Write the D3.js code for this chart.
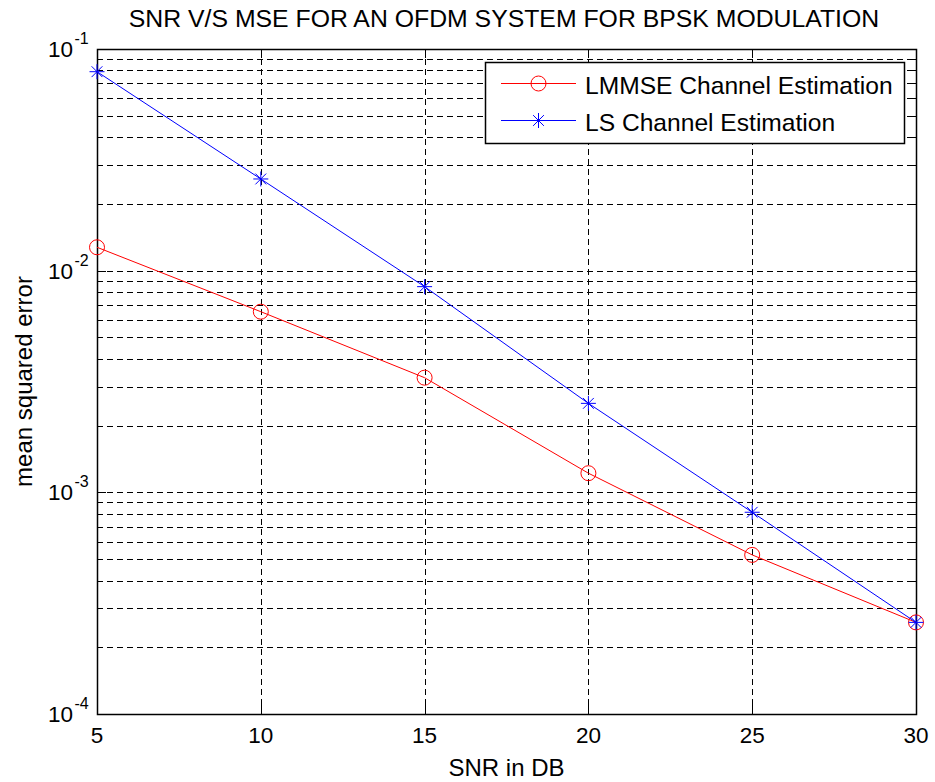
<!DOCTYPE html>
<html>
<head>
<meta charset="utf-8">
<script src="https://cdn.jsdelivr.net/npm/d3@7"></script>
<style>
  body { margin: 0; background: #fff; }
  svg { display: block; font-family: "Liberation Sans", Arial, sans-serif; }
</style>
</head>
<body>
<svg id="chart" width="935" height="782"></svg>
<script>
// data
const snr = [5, 10, 15, 20, 25, 30];
const lmmse = [0.01275, 0.00653, 0.00329, 0.00122, 0.000522, 0.000259];
const ls = [0.0790, 0.02592, 0.00847, 0.00252, 0.000813, 0.000259];
const xTicks = [5, 10, 15, 20, 25, 30];
const yTickExps = [-1, -2, -3, -4];
const seriesNames = ["LMMSE Channel Estimation", "LS Channel Estimation"];

const svg = d3.select("#chart");
const plotL = 97, plotR = 916, plotT = 49, plotB = 714;

const x = d3.scaleLinear().domain([5, 30]).range([plotL, plotR]);
const y = d3.scaleLog().domain([1e-4, 1e-1]).range([plotB, plotT]);

// grid
const grid = svg.append("g").attr("stroke", "#000").attr("stroke-width", 1)
  .attr("stroke-dasharray", "6,4").attr("fill", "none");
grid.selectAll("line.v")
  .data(xTicks.filter(d => d !== 5 && d !== 30))
  .join("line")
  .attr("x1", d => Math.round(x(d)) + 0.5).attr("x2", d => Math.round(x(d)) + 0.5)
  .attr("y1", plotT).attr("y2", plotB);
grid.selectAll("line.h")
  .data(y.ticks().filter(d => d > 1e-4 * 1.001 && d < 1e-1 * 0.999))
  .join("line")
  .attr("x1", plotL).attr("x2", plotR)
  .attr("y1", d => Math.round(y(d)) + 0.5).attr("y2", d => Math.round(y(d)) + 0.5);

// ticks (inside, both sides)
const ticks = svg.append("g").attr("stroke", "#000").attr("stroke-width", 1);
xTicks.forEach(d => {
  const px = Math.round(x(d)) + 0.5;
  ticks.append("line").attr("x1", px).attr("x2", px).attr("y1", plotB).attr("y2", plotB - 9);
  ticks.append("line").attr("x1", px).attr("x2", px).attr("y1", plotT).attr("y2", plotT + 9);
});
y.ticks().forEach(d => {
  const major = Math.abs(Math.log10(d) - Math.round(Math.log10(d))) < 1e-9;
  const len = major ? 9 : 5;
  const py = Math.round(y(d)) + 0.5;
  ticks.append("line").attr("x1", plotL).attr("x2", plotL + len).attr("y1", py).attr("y2", py);
  ticks.append("line").attr("x1", plotR).attr("x2", plotR - len).attr("y1", py).attr("y2", py);
});

// box
svg.append("rect")
  .attr("x", plotL + 0.5).attr("y", plotT + 0.5)
  .attr("width", plotR - plotL).attr("height", plotB - plotT)
  .attr("fill", "none").attr("stroke", "#000").attr("stroke-width", 1.5);

// x tick labels
svg.append("g").selectAll("text")
  .data(xTicks)
  .join("text")
  .attr("x", d => x(d)).attr("y", plotB + 29)
  .attr("text-anchor", "middle")
  .attr("font-size", 22.5)
  .text(d => d);

// y tick labels with superscript exponents
const yl = svg.append("g").selectAll("g")
  .data(yTickExps)
  .join("g")
  .attr("transform", d => `translate(0,${y(Math.pow(10, d))})`);
yl.append("text")
  .attr("x", 73).attr("y", 8)
  .attr("text-anchor", "end")
  .attr("font-size", 22.5)
  .text("10");
yl.append("text")
  .attr("x", 74.5).attr("y", -5)
  .attr("font-size", 16)
  .text(d => "-" + Math.abs(d));

// axis titles
svg.append("text")
  .attr("x", (plotL + plotR) / 2).attr("y", 776)
  .attr("text-anchor", "middle").attr("font-size", 24)
  .text("SNR in DB");
svg.append("text")
  .attr("transform", `translate(32,${(plotT + plotB) / 2}) rotate(-90)`)
  .attr("text-anchor", "middle").attr("font-size", 24)
  .text("mean squared error");
svg.append("text")
  .attr("x", 504).attr("y", 27)
  .attr("text-anchor", "middle").attr("font-size", 24.8)
  .text("SNR V/S MSE FOR AN OFDM SYSTEM FOR BPSK MODULATION");

// series
const line = d3.line().x(d => x(d[0])).y(d => y(d[1]));
const lmmseData = d3.zip(snr, lmmse);
const lsData = d3.zip(snr, ls);

function star(g, cx, cy, r, color) {
  const d = r * 0.72;
  g.append("path")
    .attr("d", `M${cx - r},${cy}H${cx + r}M${cx},${cy - r}V${cy + r}` +
               `M${cx - d},${cy - d}L${cx + d},${cy + d}M${cx - d},${cy + d}L${cx + d},${cy - d}`)
    .attr("stroke", color).attr("stroke-width", 1).attr("fill", "none");
}

svg.append("path").datum(lmmseData).attr("d", line)
  .attr("fill", "none").attr("stroke", "#ff0000").attr("stroke-width", 1);
svg.append("g").selectAll("circle")
  .data(lmmseData)
  .join("circle")
  .attr("cx", d => x(d[0])).attr("cy", d => y(d[1])).attr("r", 7.5)
  .attr("fill", "none").attr("stroke", "#ff0000").attr("stroke-width", 1);

svg.append("path").datum(lsData).attr("d", line)
  .attr("fill", "none").attr("stroke", "#0000ff").attr("stroke-width", 1);
const stars = svg.append("g");
lsData.forEach(d => star(stars, x(d[0]), y(d[1]), 7.5, "#0000ff"));

// legend
const lg = svg.append("g");
lg.append("rect")
  .attr("x", 485.5).attr("y", 62.5).attr("width", 419).attr("height", 81)
  .attr("fill", "#fff").attr("stroke", "#000").attr("stroke-width", 1.5);
const rows = [83.5, 120.5];
const colors = ["#ff0000", "#0000ff"];
seriesNames.forEach((name, i) => {
  lg.append("line").attr("x1", 501).attr("x2", 576).attr("y1", rows[i]).attr("y2", rows[i])
    .attr("stroke", colors[i]).attr("stroke-width", 1);
  if (i === 0) {
    lg.append("circle").attr("cx", 538.5).attr("cy", rows[i]).attr("r", 7.5)
      .attr("fill", "none").attr("stroke", colors[i]);
  } else {
    star(lg, 538.5, rows[i], 7.5, colors[i]);
  }
  lg.append("text").attr("x", 585).attr("y", rows[i] + 10)
    .attr("font-size", 24.6).text(name);
});
</script>
</body>
</html>
